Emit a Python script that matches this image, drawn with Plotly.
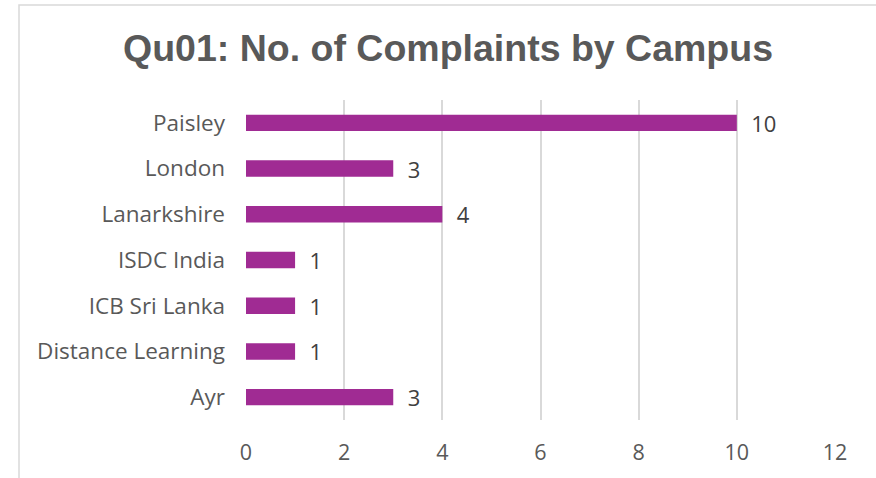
import plotly.graph_objects as go

campuses = ["Paisley", "London", "Lanarkshire", "ISDC India", "ICB Sri Lanka", "Distance Learning", "Ayr"]
complaints = [10, 3, 4, 1, 1, 1, 3]
x_ticks = [0, 2, 4, 6, 8, 10, 12]

W, H = 876, 478
L, R, T, B = 246, 41, 100, 58
pw, ph = W - L - R, H - T - B

fig = go.Figure(go.Bar(
    y=campuses, x=complaints, orientation="h",
    marker=dict(color="#A02B93", line=dict(width=0)),
    text=complaints, texttemplate="  %{x}", textposition="outside",
    textfont=dict(family="Open Sans", size=22, color="#404040"),
    constraintext="none",
    cliponaxis=False,
))

def px_x(p):
    return (p - L) / pw

def px_y(p):
    return (H - B - p) / ph

fig.add_shape(type="rect", xref="paper", yref="paper",
              x0=px_x(19), x1=px_x(W + 10), y0=px_y(H + 10), y1=px_y(5),
              line=dict(color="#D9D9D9", width=1.5), fillcolor="rgba(0,0,0,0)", layer="below")

fig.update_layout(
    width=W, height=H,
    margin=dict(l=L, r=R, t=T, b=B),
    paper_bgcolor="white", plot_bgcolor="white",
    title=dict(text="<b>Qu01: No. of Complaints by Campus</b>", x=448 / W, xanchor="center",
               y=1 - 48 / H, yanchor="middle",
               font=dict(family="Liberation Sans", size=37.5, color="#595959")),
    bargap=0.64,
    showlegend=False,
    xaxis=dict(range=[0, 12], tickvals=x_ticks, showgrid=True, gridcolor="#D9D9D9", gridwidth=1.5,
               zeroline=False, showline=False, ticks="",
               tickfont=dict(family="Open Sans", size=21.5, color="#595959"), ticklabelstandoff=17),
    yaxis=dict(categoryorder="array", categoryarray=campuses[::-1], showgrid=False, zeroline=False,
               showline=False, ticks="", ticklabelstandoff=20,
               tickfont=dict(family="Open Sans", size=22.5, color="#595959")),
)

fig.write_html("out.html")
